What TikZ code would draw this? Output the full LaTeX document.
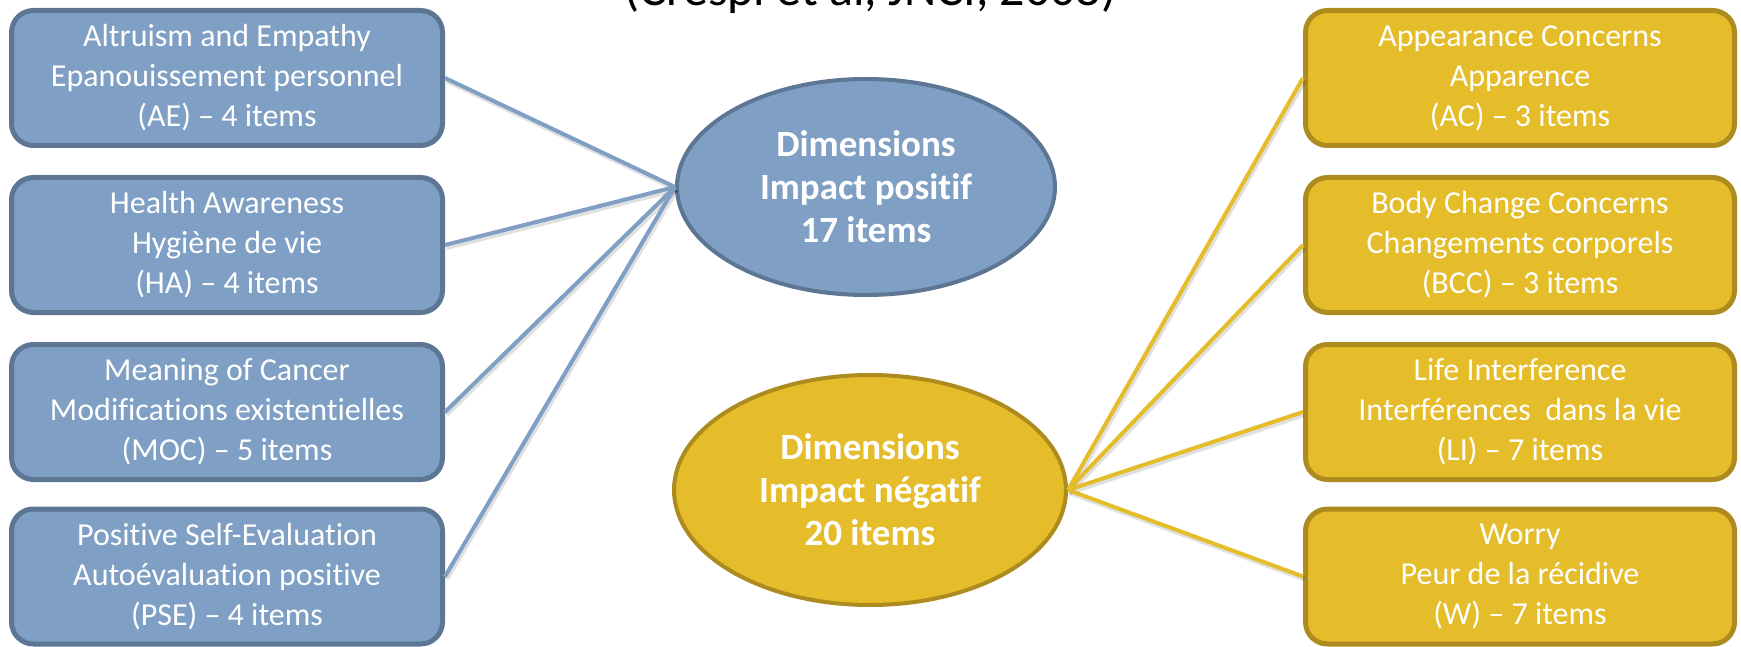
\documentclass[tikz,border=0pt]{standalone}
\usepackage{fontspec}
\setmainfont{Carlito}[Ligatures={NoCommon}]
\usetikzlibrary{shapes.geometric}
\definecolor{bluefill}{RGB}{127,159,196}
\definecolor{blueedge}{RGB}{92,118,148}
\definecolor{yelfill}{RGB}{229,189,42}
\definecolor{yeledge}{RGB}{174,139,30}
\begin{document}
\begin{tikzpicture}[x=1pt,y=-1pt,
  box/.style={rounded corners=22pt, line width=5pt, minimum height=135pt,
    text=white, align=center, font=\fontsize{32}{40}\selectfont, inner sep=0pt},
  bbox/.style={box, draw=blueedge, fill=bluefill, minimum width=431pt},
  ybox/.style={box, draw=yeledge, fill=yelfill, minimum width=429pt},
  ell/.style={ellipse, line width=4pt, text=white, align=center,
    font=\fontsize{37}{43}\selectfont\bfseries, inner sep=0pt},
  conn/.style={line width=4pt},
  connshadow/.style={line width=5pt, black, opacity=0.12},
]
\useasboundingbox (0,0) rectangle (1741,647);
\clip (0,0) rectangle (1741,647);
\fill[white] (0,0) rectangle (1741,647);

\node[anchor=base, font=\fontsize{50}{60}\selectfont] (title) at (870.5,6) {(Crespi et al, JNCI, 2008)};

% left boxes
\node[bbox] (ae)  at (227,78)    {Altruism and Empathy\\Epanouissement personnel\\(AE) – 4 items};
\node[bbox] (ha)  at (227,245)   {Health Awareness\\Hygiène de vie\\(HA) – 4 items};
\node[bbox] (moc) at (227,412)   {Meaning of Cancer\\Modifications existentielles\\(MOC) – 5 items};
\node[bbox] (pse) at (227,576.5) {Positive Self-Evaluation\\Autoévaluation positive\\(PSE) – 4 items};

% right boxes
\node[ybox] (ac)  at (1520,78)    {Appearance Concerns\\Apparence\\(AC) – 3 items};
\node[ybox] (bcc) at (1520,245)   {Body Change Concerns\\Changements corporels\\(BCC) – 3 items};
\node[ybox] (li)  at (1520,412)   {Life Interference\\Interférences\ \ dans la vie\\(LI) – 7 items};
\node[ybox] (w)   at (1520,576.5) {Worry\\Peur de la récidive\\(W) – 7 items};

% ellipses
\node[ell, draw=blueedge, fill=bluefill, minimum width=378pt, minimum height=216pt] (pos) at (866,187) {Dimensions\\Impact positif\\17 items};
\node[ell, draw=yeledge, fill=yelfill, minimum width=392pt, minimum height=230pt] (neg) at (870,490) {Dimensions\\Impact négatif\\20 items};

% connector shadows
\foreach \b in {ae,ha,moc,pse}
  \draw[connshadow] ([shift={(1.5,2.5)}]\b.east) -- ([shift={(1.5,2.5)}]pos.west);
\foreach \b in {ac,bcc,li,w}
  \draw[connshadow] ([shift={(1.5,2.5)}]\b.west) -- ([shift={(1.5,2.5)}]neg.east);

% connectors
\foreach \b in {ae,ha,moc,pse}
  \draw[conn, bluefill] (\b.east) -- (pos.west);
\foreach \b in {ac,bcc,li,w}
  \draw[conn, yelfill] (\b.west) -- (neg.east);
\end{tikzpicture}
\end{document}
